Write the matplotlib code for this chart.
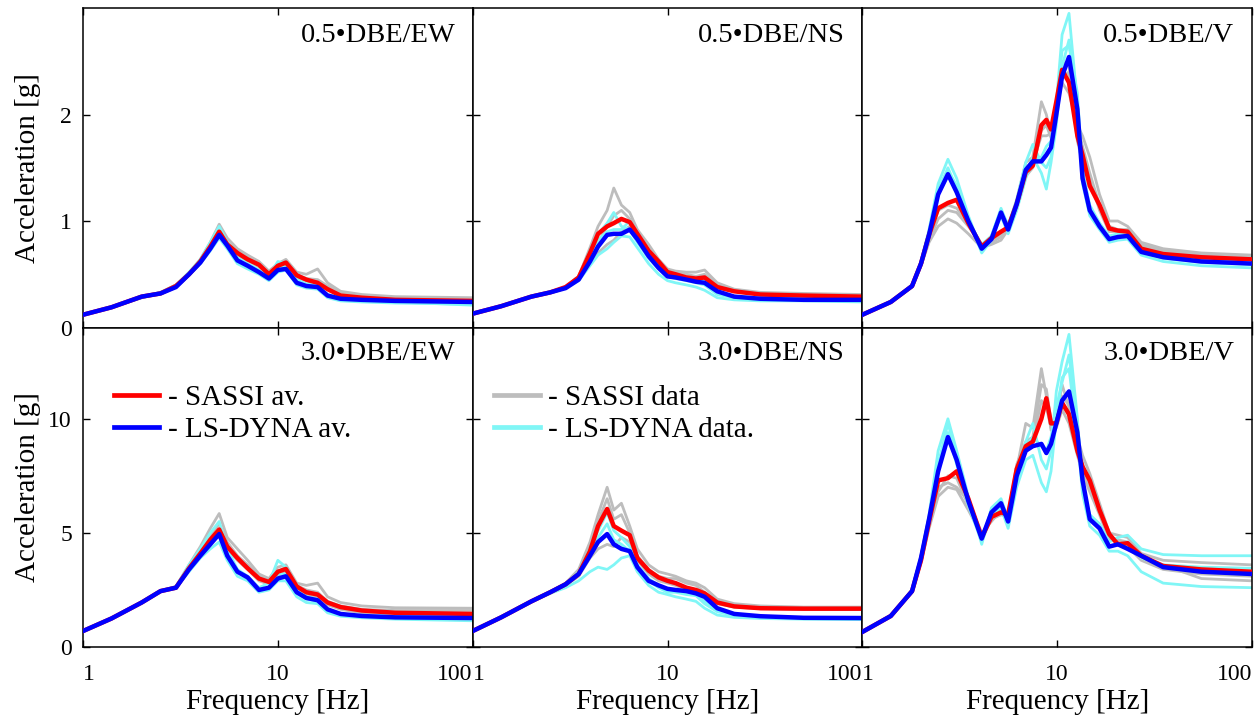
import matplotlib
matplotlib.use("Agg")
import matplotlib.pyplot as plt
from matplotlib.lines import Line2D

plt.rcParams['font.family'] = ['Liberation Serif', 'DejaVu Serif']

# ---------------- data ----------------
F_EW = [1, 1.4, 2, 2.5, 3, 3.5, 4, 4.5, 5, 5.5, 6.2, 7, 8, 9, 10, 11, 12.5, 14, 16, 18, 21, 27, 40, 100]
F_NS = [1, 1.4, 2, 2.5, 3, 3.5, 4, 4.4, 4.9, 5.3, 5.8, 6.4, 7, 8, 9, 10, 11, 12.5, 14, 15.5, 18, 22, 30, 50, 100]
F_V = [1, 1.4, 1.8, 2.0, 2.2, 2.45, 2.75, 3.05, 3.5, 4.1, 4.6, 5.15, 5.6, 6.2, 6.9, 7.5, 8.3, 8.8, 9.3,
       9.9, 10.6, 11.5, 12.7, 13.5, 14.7, 16.5, 18.5, 20.5, 23, 27, 35, 55, 100]

# 0.5 DBE / EW
ew05_sassi_av = [0.12, 0.19, 0.29, 0.32, 0.39, 0.50, 0.62, 0.76, 0.90, 0.78, 0.70, 0.64, 0.59, 0.50, 0.58, 0.61, 0.49, 0.45, 0.42, 0.36, 0.30, 0.28, 0.26, 0.25]
ew05_dyna_av = [0.12, 0.19, 0.29, 0.32, 0.38, 0.50, 0.61, 0.74, 0.87, 0.77, 0.63, 0.58, 0.52, 0.46, 0.54, 0.55, 0.42, 0.39, 0.38, 0.30, 0.27, 0.26, 0.25, 0.24]
ew05_sassi_1 = [0.12, 0.19, 0.29, 0.32, 0.39, 0.51, 0.64, 0.80, 0.97, 0.84, 0.74, 0.68, 0.62, 0.53, 0.60, 0.64, 0.52, 0.50, 0.55, 0.42, 0.34, 0.31, 0.29, 0.28]
ew05_sassi_2 = [0.12, 0.19, 0.29, 0.33, 0.40, 0.50, 0.61, 0.75, 0.88, 0.80, 0.72, 0.66, 0.60, 0.50, 0.57, 0.62, 0.50, 0.46, 0.45, 0.39, 0.33, 0.30, 0.28, 0.27]
ew05_sassi_3 = [0.12, 0.19, 0.28, 0.32, 0.38, 0.49, 0.60, 0.74, 0.86, 0.76, 0.68, 0.63, 0.57, 0.49, 0.56, 0.58, 0.47, 0.44, 0.40, 0.37, 0.31, 0.29, 0.27, 0.26]
ew05_dyna_1 = [0.12, 0.19, 0.29, 0.33, 0.40, 0.52, 0.64, 0.80, 0.95, 0.80, 0.66, 0.60, 0.54, 0.48, 0.62, 0.60, 0.45, 0.41, 0.40, 0.31, 0.28, 0.27, 0.26, 0.25]
ew05_dyna_2 = [0.12, 0.19, 0.28, 0.32, 0.38, 0.49, 0.60, 0.72, 0.84, 0.74, 0.60, 0.55, 0.50, 0.44, 0.52, 0.54, 0.40, 0.37, 0.36, 0.28, 0.25, 0.24, 0.23, 0.22]
ew05_dyna_3 = [0.12, 0.19, 0.29, 0.32, 0.38, 0.50, 0.62, 0.76, 0.90, 0.78, 0.64, 0.58, 0.52, 0.46, 0.55, 0.57, 0.43, 0.40, 0.38, 0.30, 0.26, 0.25, 0.24, 0.21]

# 3.0 DBE / EW
ew30_sassi_av = [0.70, 1.25, 1.95, 2.45, 2.60, 3.45, 4.10, 4.70, 5.15, 4.40, 3.90, 3.45, 3.00, 2.85, 3.30, 3.42, 2.65, 2.40, 2.30, 1.95, 1.75, 1.60, 1.50, 1.45]
ew30_dyna_av = [0.70, 1.25, 1.95, 2.45, 2.60, 3.40, 4.00, 4.50, 4.95, 4.00, 3.30, 3.05, 2.50, 2.60, 3.00, 3.10, 2.40, 2.15, 2.05, 1.65, 1.45, 1.36, 1.30, 1.27]
ew30_sassi_1 = [0.70, 1.25, 1.95, 2.45, 2.65, 3.60, 4.40, 5.20, 5.85, 4.80, 4.30, 3.80, 3.20, 3.00, 3.50, 3.60, 2.80, 2.70, 2.80, 2.20, 1.95, 1.80, 1.72, 1.70]
ew30_sassi_2 = [0.70, 1.25, 1.95, 2.45, 2.60, 3.50, 4.20, 4.90, 5.40, 4.60, 4.00, 3.60, 3.10, 2.90, 3.30, 3.50, 2.70, 2.50, 2.40, 2.00, 1.80, 1.65, 1.60, 1.60]
ew30_sassi_3 = [0.70, 1.25, 1.95, 2.45, 2.60, 3.40, 4.00, 4.50, 5.00, 4.30, 3.80, 3.40, 2.90, 2.75, 3.10, 3.30, 2.55, 2.30, 2.20, 1.85, 1.65, 1.50, 1.45, 1.42]
ew30_dyna_1 = [0.70, 1.25, 1.95, 2.45, 2.65, 3.60, 4.30, 5.00, 5.50, 4.30, 3.40, 3.10, 2.60, 2.80, 3.80, 3.50, 2.50, 2.20, 2.10, 1.60, 1.45, 1.38, 1.35, 1.32]
ew30_dyna_2 = [0.70, 1.25, 1.95, 2.45, 2.60, 3.30, 3.90, 4.30, 4.60, 3.80, 3.10, 2.90, 2.40, 2.50, 2.90, 2.90, 2.20, 1.95, 1.90, 1.50, 1.35, 1.28, 1.22, 1.15]
ew30_dyna_3 = [0.70, 1.25, 1.95, 2.45, 2.60, 3.40, 4.10, 4.60, 5.10, 4.10, 3.30, 3.00, 2.50, 2.60, 3.20, 3.20, 2.35, 2.10, 2.00, 1.55, 1.40, 1.32, 1.28, 1.25]

# 0.5 DBE / NS
ns05_sassi_av = [0.13, 0.20, 0.29, 0.33, 0.38, 0.47, 0.70, 0.88, 0.95, 0.98, 1.02, 0.99, 0.88, 0.72, 0.62, 0.52, 0.50, 0.47, 0.46, 0.47, 0.38, 0.34, 0.31, 0.30, 0.29]
ns05_dyna_av = [0.13, 0.20, 0.29, 0.33, 0.37, 0.45, 0.62, 0.76, 0.87, 0.88, 0.88, 0.92, 0.83, 0.67, 0.56, 0.48, 0.47, 0.45, 0.43, 0.42, 0.34, 0.29, 0.27, 0.26, 0.26]
ns05_sassi_1 = [0.13, 0.20, 0.29, 0.33, 0.38, 0.48, 0.75, 0.95, 1.10, 1.31, 1.15, 1.08, 0.92, 0.78, 0.64, 0.55, 0.53, 0.52, 0.52, 0.54, 0.42, 0.36, 0.33, 0.32, 0.31]
ns05_sassi_2 = [0.13, 0.20, 0.29, 0.33, 0.38, 0.47, 0.68, 0.80, 0.95, 1.05, 1.10, 1.02, 0.90, 0.73, 0.62, 0.54, 0.52, 0.50, 0.48, 0.50, 0.40, 0.35, 0.32, 0.31, 0.30]
ns05_sassi_3 = [0.13, 0.20, 0.29, 0.33, 0.37, 0.45, 0.60, 0.70, 0.78, 0.82, 0.90, 0.95, 0.85, 0.70, 0.60, 0.52, 0.50, 0.46, 0.45, 0.45, 0.38, 0.34, 0.31, 0.30, 0.29]
ns05_dyna_1 = [0.13, 0.20, 0.29, 0.33, 0.38, 0.48, 0.72, 0.88, 0.98, 1.08, 0.95, 0.92, 0.80, 0.65, 0.55, 0.48, 0.46, 0.44, 0.42, 0.40, 0.31, 0.28, 0.27, 0.26, 0.26]
ns05_dyna_2 = [0.13, 0.20, 0.29, 0.33, 0.37, 0.44, 0.58, 0.68, 0.74, 0.80, 0.86, 0.85, 0.75, 0.60, 0.50, 0.44, 0.42, 0.40, 0.38, 0.35, 0.28, 0.26, 0.25, 0.25, 0.24]
ns05_dyna_3 = [0.13, 0.20, 0.29, 0.33, 0.38, 0.46, 0.65, 0.82, 0.90, 0.92, 0.92, 1.00, 0.88, 0.70, 0.58, 0.50, 0.48, 0.46, 0.44, 0.43, 0.33, 0.29, 0.28, 0.27, 0.27]

# 3.0 DBE / NS
ns30_sassi_av = [0.70, 1.30, 2.00, 2.40, 2.75, 3.20, 4.20, 5.30, 6.05, 5.30, 5.10, 4.90, 3.90, 3.35, 3.05, 2.90, 2.80, 2.60, 2.50, 2.35, 1.95, 1.78, 1.70, 1.68, 1.68]
ns30_dyna_av = [0.70, 1.30, 2.00, 2.40, 2.75, 3.20, 4.00, 4.60, 4.95, 4.50, 4.30, 4.20, 3.50, 2.90, 2.70, 2.55, 2.50, 2.45, 2.35, 2.20, 1.70, 1.45, 1.35, 1.28, 1.27]
ns30_sassi_1 = [0.70, 1.30, 2.00, 2.40, 2.80, 3.40, 4.60, 5.80, 7.00, 6.00, 6.30, 5.30, 4.30, 3.60, 3.30, 3.20, 3.10, 2.90, 2.80, 2.60, 2.10, 1.90, 1.80, 1.75, 1.75]
ns30_sassi_2 = [0.70, 1.30, 2.00, 2.40, 2.75, 3.30, 4.40, 5.50, 6.50, 5.60, 5.80, 5.00, 4.00, 3.40, 3.10, 3.00, 3.00, 2.80, 2.70, 2.40, 2.00, 1.80, 1.72, 1.70, 1.70]
ns30_sassi_3 = [0.70, 1.30, 2.00, 2.40, 2.70, 3.10, 3.90, 4.30, 4.50, 4.40, 4.80, 4.60, 3.80, 3.20, 2.90, 2.80, 2.70, 2.50, 2.40, 2.30, 1.90, 1.75, 1.68, 1.65, 1.65]
ns30_dyna_1 = [0.70, 1.30, 2.00, 2.40, 2.75, 3.30, 4.30, 5.10, 5.90, 5.10, 4.80, 4.40, 3.60, 3.00, 2.70, 2.50, 2.50, 2.40, 2.30, 2.00, 1.60, 1.40, 1.32, 1.30, 1.30]
ns30_dyna_2 = [0.70, 1.30, 2.00, 2.35, 2.60, 2.90, 3.30, 3.50, 3.40, 3.60, 3.90, 4.00, 3.30, 2.70, 2.40, 2.30, 2.20, 2.10, 2.00, 1.70, 1.40, 1.30, 1.25, 1.22, 1.20]
ns30_dyna_3 = [0.70, 1.30, 2.00, 2.40, 2.70, 3.20, 4.00, 4.80, 5.40, 4.70, 4.50, 4.20, 3.40, 2.90, 2.60, 2.40, 2.40, 2.30, 2.25, 1.90, 1.55, 1.38, 1.30, 1.27, 1.26]

# 0.5 DBE / V
v05_sassi_av = [0.12, 0.24, 0.39, 0.60, 0.87, 1.12, 1.17, 1.20, 0.98, 0.76, 0.84, 0.90, 0.94, 1.16, 1.46, 1.52, 1.90, 1.95, 1.86, 2.12, 2.42, 2.30, 1.80, 1.62, 1.33, 1.15, 0.93, 0.91, 0.90, 0.74, 0.69, 0.66, 0.64]
v05_dyna_av = [0.12, 0.24, 0.39, 0.60, 0.87, 1.25, 1.44, 1.27, 1.00, 0.74, 0.83, 1.08, 0.92, 1.16, 1.48, 1.56, 1.56, 1.62, 1.69, 2.00, 2.36, 2.54, 2.05, 1.40, 1.10, 0.95, 0.83, 0.85, 0.86, 0.71, 0.66, 0.62, 0.60]
v05_sassi_1 = [0.12, 0.24, 0.38, 0.58, 0.82, 1.02, 1.10, 1.08, 0.95, 0.78, 0.80, 0.85, 0.95, 1.20, 1.55, 1.60, 2.12, 2.00, 1.80, 2.05, 2.30, 2.20, 1.90, 1.80, 1.60, 1.25, 1.00, 1.00, 0.95, 0.80, 0.74, 0.70, 0.68]
v05_sassi_2 = [0.12, 0.24, 0.38, 0.58, 0.80, 0.95, 1.02, 0.98, 0.88, 0.75, 0.78, 0.82, 0.92, 1.12, 1.42, 1.50, 1.85, 1.90, 1.78, 2.00, 2.35, 2.40, 1.75, 1.55, 1.40, 1.10, 0.90, 0.90, 0.88, 0.76, 0.70, 0.67, 0.65]
v05_sassi_3 = [0.12, 0.24, 0.39, 0.60, 0.85, 1.10, 1.15, 1.12, 0.98, 0.76, 0.82, 0.88, 0.94, 1.18, 1.45, 1.55, 1.80, 1.80, 1.82, 2.10, 2.50, 2.45, 1.90, 1.70, 1.45, 1.15, 0.95, 0.92, 0.92, 0.78, 0.72, 0.68, 0.66]
v05_dyna_1 = [0.12, 0.24, 0.40, 0.62, 0.92, 1.35, 1.58, 1.40, 1.05, 0.72, 0.86, 1.10, 0.96, 1.20, 1.55, 1.72, 1.55, 1.50, 1.60, 2.10, 2.75, 2.95, 2.10, 1.50, 1.12, 0.98, 0.86, 0.88, 0.90, 0.72, 0.67, 0.63, 0.62]
v05_dyna_2 = [0.12, 0.24, 0.39, 0.60, 0.88, 1.28, 1.50, 1.30, 1.02, 0.70, 0.82, 1.05, 0.88, 1.10, 1.40, 1.60, 1.45, 1.30, 1.55, 1.90, 2.45, 2.70, 2.00, 1.35, 1.05, 0.92, 0.80, 0.82, 0.83, 0.68, 0.62, 0.58, 0.56]
v05_dyna_3 = [0.12, 0.24, 0.39, 0.61, 0.90, 1.30, 1.48, 1.33, 1.00, 0.78, 0.86, 1.12, 0.95, 1.15, 1.48, 1.58, 1.60, 1.70, 1.75, 2.05, 2.60, 2.65, 2.20, 1.45, 1.15, 0.98, 0.84, 0.86, 0.88, 0.70, 0.65, 0.61, 0.59]

# 3.0 DBE / V
v30_sassi_av = [0.66, 1.36, 2.45, 3.80, 5.50, 7.30, 7.40, 7.70, 6.50, 4.80, 5.70, 5.90, 5.80, 7.80, 8.80, 9.00, 10.0, 10.9, 9.80, 9.80, 10.7, 10.2, 8.60, 7.90, 7.30, 6.00, 4.95, 4.50, 4.55, 4.00, 3.55, 3.40, 3.30]
v30_dyna_av = [0.66, 1.36, 2.45, 3.90, 5.60, 7.70, 9.20, 8.20, 6.40, 4.75, 5.90, 6.30, 5.50, 7.50, 8.60, 8.80, 8.90, 8.50, 8.90, 9.80, 10.8, 11.2, 9.40, 7.30, 5.60, 5.20, 4.40, 4.50, 4.30, 4.00, 3.50, 3.30, 3.20]
v30_sassi_1 = [0.66, 1.36, 2.40, 3.70, 5.20, 6.60, 7.00, 6.90, 6.00, 4.90, 5.60, 5.80, 5.90, 7.80, 9.80, 9.60, 12.2, 11.0, 9.50, 10.0, 11.5, 10.5, 9.20, 8.40, 7.60, 6.30, 5.00, 4.90, 4.80, 4.10, 3.80, 3.70, 3.60]
v30_sassi_2 = [0.66, 1.36, 2.40, 3.70, 5.30, 6.80, 7.50, 7.40, 6.20, 4.80, 5.70, 5.80, 5.70, 8.00, 9.00, 9.20, 11.5, 11.3, 9.90, 9.60, 10.4, 9.80, 8.40, 7.60, 6.80, 5.80, 4.70, 4.60, 4.40, 3.80, 3.40, 3.20, 3.10]
v30_sassi_3 = [0.66, 1.36, 2.45, 3.80, 5.40, 7.00, 7.20, 7.00, 6.40, 5.00, 5.50, 6.00, 5.80, 7.60, 8.80, 9.00, 10.8, 10.5, 9.60, 9.80, 11.0, 10.6, 9.00, 8.00, 7.00, 6.00, 4.80, 4.70, 4.60, 3.90, 3.60, 3.00, 2.90]
v30_dyna_1 = [0.66, 1.38, 2.50, 4.00, 5.80, 8.60, 10.0, 8.60, 6.60, 4.50, 6.10, 6.50, 5.60, 7.60, 9.00, 9.80, 8.20, 7.80, 8.60, 11.2, 12.5, 13.7, 10.0, 7.00, 5.80, 5.40, 4.60, 4.80, 4.90, 4.30, 4.05, 4.00, 4.00]
v30_dyna_2 = [0.66, 1.36, 2.45, 3.90, 5.60, 7.80, 9.40, 8.00, 6.20, 4.60, 5.70, 6.10, 5.20, 7.00, 8.20, 8.40, 7.20, 6.80, 7.70, 10.0, 11.8, 12.2, 9.20, 6.70, 5.30, 4.90, 4.20, 4.20, 4.00, 3.30, 2.80, 2.65, 2.60]
v30_dyna_3 = [0.66, 1.37, 2.48, 3.95, 5.70, 8.00, 9.80, 8.40, 6.50, 4.70, 6.00, 6.40, 5.50, 7.40, 8.80, 9.20, 8.80, 8.60, 9.20, 10.5, 11.6, 12.8, 9.80, 7.20, 5.70, 5.30, 4.40, 4.50, 4.60, 3.90, 3.60, 3.50, 3.45]

panel_titles = ["0.5\u2022DBE/EW", "0.5\u2022DBE/NS", "0.5\u2022DBE/V",
                "3.0\u2022DBE/EW", "3.0\u2022DBE/NS", "3.0\u2022DBE/V"]
x_ticks = [1, 10, 100]
x_tick_labels = ["1", "10", "100"]
y_ticks_top = [0, 1, 2]
y_ticks_bottom = [0, 5, 10]
ylim_top = (0, 3)
ylim_bottom = (0, 14)

panels = [
    (F_EW, ew05_sassi_av, ew05_dyna_av, [ew05_sassi_1, ew05_sassi_2, ew05_sassi_3], [ew05_dyna_1, ew05_dyna_2, ew05_dyna_3]),
    (F_NS, ns05_sassi_av, ns05_dyna_av, [ns05_sassi_1, ns05_sassi_2, ns05_sassi_3], [ns05_dyna_1, ns05_dyna_2, ns05_dyna_3]),
    (F_V, v05_sassi_av, v05_dyna_av, [v05_sassi_1, v05_sassi_2, v05_sassi_3], [v05_dyna_1, v05_dyna_2, v05_dyna_3]),
    (F_EW, ew30_sassi_av, ew30_dyna_av, [ew30_sassi_1, ew30_sassi_2, ew30_sassi_3], [ew30_dyna_1, ew30_dyna_2, ew30_dyna_3]),
    (F_NS, ns30_sassi_av, ns30_dyna_av, [ns30_sassi_1, ns30_sassi_2, ns30_sassi_3], [ns30_dyna_1, ns30_dyna_2, ns30_dyna_3]),
    (F_V, v30_sassi_av, v30_dyna_av, [v30_sassi_1, v30_sassi_2, v30_sassi_3], [v30_dyna_1, v30_dyna_2, v30_dyna_3]),
]

RED = "#ff0000"
BLUE = "#0000ff"
GRAY = "#bdbdbd"
CYAN = "#80f6f6"

# ---------------- figure ----------------
fig, axes = plt.subplots(2, 3, figsize=(12.54, 7.17), dpi=100, sharey='row')
fig.subplots_adjust(left=0.0662, right=0.9984, top=0.9888, bottom=0.0976, wspace=0, hspace=0)

for i, ax in enumerate(axes.flat):
    f, sav, dav, sdata, ddata = panels[i]
    for s in sdata:
        ax.plot(f, s, color=GRAY, lw=2.0, zorder=2)
    for d in ddata:
        ax.plot(f, d, color=CYAN, lw=2.0, zorder=2.5)
    ax.plot(f, sav, color=RED, lw=3.2, zorder=3)
    ax.plot(f, dav, color=BLUE, lw=3.2, zorder=4)

    ax.set_xscale('log')
    ax.set_xlim(1, 100)
    ax.minorticks_off()
    ax.set_xticks(x_ticks)
    ax.tick_params(direction='in', length=5, width=1, top=True, right=True, labelsize=17, pad=8)
    ax.tick_params(axis='x', pad=12)
    for sp in ax.spines.values():
        sp.set_linewidth(1.1)
    row = i // 3
    if row == 0:
        ax.set_ylim(*ylim_top)
        ax.set_yticks(y_ticks_top)
        ax.tick_params(labelbottom=False)
    else:
        ax.set_ylim(*ylim_bottom)
        ax.set_yticks(y_ticks_bottom)
        ax.set_xticklabels(x_tick_labels)
        labs = ax.get_xticklabels()
        labs[0].set_ha('left')
        labs[2].set_ha('right')
        ax.set_xlabel("Frequency [Hz]", fontsize=21, labelpad=3)
    if i % 3 == 0:
        ax.set_ylabel("Acceleration [g]", fontsize=21)
        ax.yaxis.set_label_coords(-0.109, 0.5)
        ax.tick_params(labelleft=True)
    ax.text(0.955, 0.915 if row == 0 else 0.92, panel_titles[i], transform=ax.transAxes,
            ha='right', va='center', fontsize=20.5)

leg_kw = dict(loc='upper left', frameon=False, fontsize=21, handlelength=1.55, handletextpad=0.3,
              labelspacing=0.17, borderaxespad=0, borderpad=0)
leg1 = [Line2D([0], [0], color=RED, lw=3.4), Line2D([0], [0], color=BLUE, lw=3.4)]
axes[1, 0].legend(leg1, ["- SASSI av.", "- LS-DYNA av."], bbox_to_anchor=(0.079, 0.82), **leg_kw)
leg2 = [Line2D([0], [0], color=GRAY, lw=3.4), Line2D([0], [0], color=CYAN, lw=3.4)]
axes[1, 1].legend(leg2, ["- SASSI data", "- LS-DYNA data."], bbox_to_anchor=(0.056, 0.82), **leg_kw)

fig.savefig("out.png", dpi=100)
